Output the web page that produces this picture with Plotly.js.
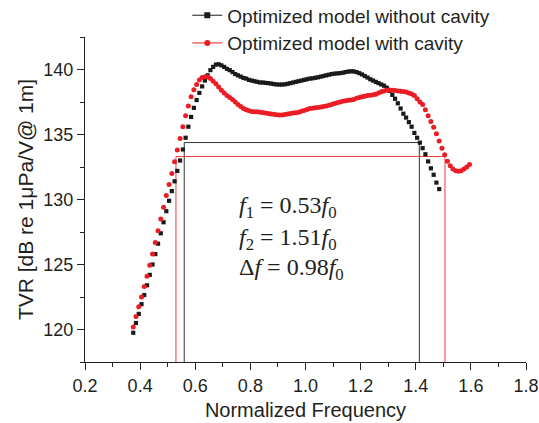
<!DOCTYPE html>
<html>
<head>
<meta charset="utf-8">
<script src="https://cdn.plot.ly/plotly-3.0.1.min.js"></script>
<style>html,body{margin:0;padding:0;background:#fff;}#chart{width:539px;height:423px;}</style>
</head>
<body>
<div id="chart"></div>
<script>
// Normalized frequency samples and TVR values (dB re 1 uPa/V @ 1 m)
const freqNoCavity = [
0.375,0.385,0.395,0.405,0.415,0.425,0.435,0.445,0.455,0.465,
0.475,0.485,0.495,0.505,0.515,0.525,0.535,0.545,0.555,0.565,
0.575,0.585,0.595,0.605,0.615,0.625,0.635,0.645,0.655,0.665,
0.675,0.685,0.695,0.705,0.715,0.725,0.735,0.745,0.755,0.765,
0.775,0.785,0.795,0.805,0.815,0.825,0.835,0.845,0.855,0.865,
0.875,0.885,0.895,0.905,0.915,0.925,0.935,0.945,0.955,0.965,
0.975,0.985,0.995,1.005,1.015,1.025,1.035,1.045,1.055,1.065,
1.075,1.085,1.095,1.105,1.115,1.125,1.135,1.145,1.155,1.165,
1.175,1.185,1.195,1.205,1.215,1.225,1.235,1.245,1.255,1.265,
1.275,1.285,1.295,1.305,1.315,1.325,1.335,1.345,1.355,1.365,
1.375,1.385,1.395,1.405,1.415,1.425,1.435,1.445,1.455,1.465,
1.475,1.485];
const tvrNoCavity = [
119.75,120.5,121.2,121.95,122.65,123.4,124.2,125.0,125.8,126.6,
127.4,128.25,129.1,129.9,130.65,131.4,132.2,133.0,133.85,134.75,
135.6,136.35,137.05,137.65,138.2,138.7,139.15,139.55,139.95,140.2,
140.38,140.4,140.32,140.2,140.05,139.95,139.8,139.65,139.55,139.45,
139.35,139.3,139.2,139.15,139.1,139.05,139.0,139.0,138.97,138.95,
138.92,138.88,138.85,138.84,138.84,138.86,138.9,138.95,139.0,139.05,
139.1,139.15,139.2,139.25,139.3,139.32,139.36,139.4,139.45,139.5,
139.55,139.6,139.65,139.68,139.7,139.72,139.75,139.8,139.84,139.86,
139.85,139.8,139.72,139.62,139.5,139.38,139.25,139.15,139.05,138.95,
138.85,138.75,138.6,138.35,138.05,137.75,137.4,137.0,136.6,136.3,
135.95,135.6,135.12,134.75,134.37,133.95,133.48,132.93,132.4,131.9,
131.3,130.8];

const freqWithCavity = [
0.375,0.385,0.395,0.405,0.415,0.425,0.435,0.445,0.455,0.465,
0.475,0.485,0.495,0.505,0.515,0.525,0.535,0.545,0.555,0.565,
0.575,0.585,0.595,0.605,0.615,0.625,0.635,0.645,0.655,0.665,
0.675,0.685,0.695,0.705,0.715,0.725,0.735,0.745,0.755,0.765,
0.775,0.785,0.795,0.805,0.815,0.825,0.835,0.845,0.855,0.865,
0.875,0.885,0.895,0.905,0.915,0.925,0.935,0.945,0.955,0.965,
0.975,0.985,0.995,1.005,1.015,1.025,1.035,1.045,1.055,1.065,
1.075,1.085,1.095,1.105,1.115,1.125,1.135,1.145,1.155,1.165,
1.175,1.185,1.195,1.205,1.215,1.225,1.235,1.245,1.255,1.265,
1.275,1.285,1.295,1.305,1.315,1.325,1.335,1.345,1.355,1.365,
1.375,1.385,1.395,1.405,1.415,1.425,1.435,1.445,1.455,1.465,
1.475,1.485,1.495,1.505,1.515,1.525,1.535,1.545,1.555,1.565,
1.575,1.585,1.595];
const tvrWithCavity = [
120.2,121.0,121.75,122.5,123.3,124.1,124.95,125.8,126.7,127.6,
128.5,129.4,130.3,131.15,132.0,132.9,133.8,134.7,135.6,136.45,
137.2,137.9,138.45,138.85,139.2,139.38,139.45,139.42,139.3,139.1,
138.9,138.65,138.4,138.2,138.0,137.85,137.7,137.5,137.3,137.15,
137.0,136.9,136.82,136.77,136.75,136.75,136.72,136.7,136.66,136.62,
136.58,136.55,136.52,136.5,136.5,136.54,136.58,136.62,136.65,136.68,
136.72,136.78,136.85,136.92,137.0,137.02,137.05,137.08,137.12,137.15,
137.2,137.25,137.3,137.38,137.45,137.5,137.55,137.6,137.63,137.66,
137.7,137.78,137.85,137.9,137.95,138.0,138.02,138.05,138.1,138.2,
138.28,138.35,138.4,138.42,138.4,138.38,138.35,138.32,138.3,138.27,
138.2,138.12,138.0,137.75,137.5,137.3,136.9,136.45,136.0,135.55,
135.05,134.5,133.95,133.45,132.95,132.6,132.35,132.22,132.18,132.22,
132.35,132.5,132.7];

// Bandwidth marker boxes (frequency edges and level)
const boxNoCavityX = [0.56, 0.56, 1.413, 1.413];
const boxNoCavityY = [117.5, 134.38, 134.38, 117.5];
const boxWithCavityX = [0.53, 0.53, 1.506, 1.506];
const boxWithCavityY = [117.5, 133.31, 133.31, 117.5];

const seriesNames = ['Optimized model without cavity', 'Optimized model with cavity'];
const annotationLines = [
  '<i>f</i><sub>1</sub> = 0.53<i>f</i><sub>0</sub>',
  '<i>f</i><sub>2</sub> = 1.51<i>f</i><sub>0</sub>',
  '\u0394<i>f</i> = 0.98<i>f</i><sub>0</sub>'
];
const annotationY = [129.4, 127.0, 124.65];

const BLACK = '#1a1a1a';
const RED = '#ec1c24';

const traces = [
  {x: boxNoCavityX, y: boxNoCavityY, mode: 'lines', line: {color: '#333', width: 1}, showlegend: false, hoverinfo: 'skip'},
  {x: boxWithCavityX, y: boxWithCavityY, mode: 'lines', line: {color: '#ee3a40', width: 1}, showlegend: false, hoverinfo: 'skip'},
  {x: freqNoCavity, y: tvrNoCavity, mode: 'markers', marker: {symbol: 'square', size: 4.2, color: BLACK}, showlegend: false},
  {x: freqWithCavity, y: tvrWithCavity, mode: 'markers', marker: {symbol: 'circle', size: 5, color: RED}, showlegend: false},
  {x: [null], y: [null], name: seriesNames[0], mode: 'lines+markers', line: {color: BLACK, width: 1}, marker: {symbol: 'square', size: 6, color: BLACK}},
  {x: [null], y: [null], name: seriesNames[1], mode: 'lines+markers', line: {color: RED, width: 1}, marker: {symbol: 'circle', size: 6, color: RED}}
];

const fontSans = 'Liberation Sans, Arial, sans-serif';
const layout = {
  width: 539, height: 423,
  margin: {l: 85, r: 13, t: 37, b: 61, autoexpand: false},
  paper_bgcolor: '#fff', plot_bgcolor: '#fff',
  font: {family: fontSans, color: '#231f20', size: 18},
  showlegend: true,
  legend: {x: 0.232, xanchor: 'left', y: 1.125, yanchor: 'top', bgcolor: 'rgba(0,0,0,0)',
           font: {family: fontSans, size: 19, color: '#231f20'}, tracegroupgap: 0},
  xaxis: {
    range: [0.2, 1.8], dtick: 0.2, tick0: 0.2, tickformat: '.1f',
    showline: true, linecolor: '#231f20', linewidth: 1,
    ticks: 'outside', ticklen: 7, tickcolor: '#231f20',
    minor: {dtick: 0.1, ticks: 'outside', ticklen: 4, tickcolor: '#231f20'},
    showgrid: false, zeroline: false,
    tickfont: {size: 18},
    title: {text: 'Normalized Frequency', font: {size: 20}, standoff: 8}
  },
  yaxis: {
    range: [117.5, 142.5], dtick: 5, tick0: 120,
    showline: true, linecolor: '#231f20', linewidth: 1,
    ticks: 'outside', ticklen: 7, tickcolor: '#231f20',
    minor: {dtick: 2.5, ticks: 'outside', ticklen: 4, tickcolor: '#231f20'},
    showgrid: false, zeroline: false,
    tickfont: {size: 18},
    title: {text: 'TVR [dB re 1\u03bcPa/V@ 1m]', font: {size: 21}, standoff: 4}
  },
  annotations: annotationLines.map((t, i) => ({
    x: 0.752, y: annotationY[i], xref: 'x', yref: 'y', xanchor: 'left', yanchor: 'middle',
    text: t, showarrow: false, font: {family: 'Liberation Serif, Times New Roman, serif', size: 24, color: '#231f20'}
  }))
};

Plotly.newPlot('chart', traces, layout, {displayModeBar: false, staticPlot: true});
</script>
</body>
</html>
